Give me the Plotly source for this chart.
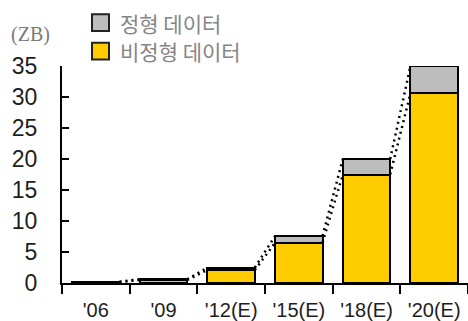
import plotly.graph_objects as go

# Data volume by year (ZB)
years = ["'06", "'09", "'12(E)", "'15(E)", "'18(E)", "'20(E)"]
unstructured = [0.15, 0.5, 2.1, 6.5, 17.5, 30.6]   # 비정형 데이터
structured = [0.05, 0.1, 0.4, 1.1, 2.5, 4.4]       # 정형 데이터

W, H = 468, 321
ML, MR, MT, MB = 62, 0, 66, 35
BAR_W = 0.7

xs = list(range(len(years)))
totals = [u + s for u, s in zip(unstructured, structured)]

fig = go.Figure()

# dotted connectors between neighbouring bars (totals and unstructured tops)
for series in (totals, unstructured):
    lx, ly = [], []
    for i in range(len(xs) - 1):
        lx += [xs[i] + BAR_W / 2, xs[i + 1] - BAR_W / 2, None]
        ly += [series[i], series[i + 1], None]
    fig.add_trace(go.Scatter(
        x=lx, y=ly, mode="lines", showlegend=False, hoverinfo="skip",
        line=dict(color="black", width=2.5, dash="2px,4px"),
    ))

fig.add_trace(go.Bar(
    x=xs, y=unstructured, name="비정형 데이터", width=BAR_W,
    marker=dict(color="#ffcc00", line=dict(color="black", width=2)),
    showlegend=False,
))
fig.add_trace(go.Bar(
    x=xs, y=structured, name="정형 데이터", width=BAR_W,
    marker=dict(color="#bdbdbd", line=dict(color="black", width=2)),
    showlegend=False,
))

PW = W - ML - MR
PH = H - MT - MB


def px_x(p):
    return (p - ML) / PW


def px_y(p):
    return (H - MB - p) / PH


# legend drawn by hand: square swatches with labels
legend_items = [("정형 데이터", "#bdbdbd", 22), ("비정형 데이터", "#ffcc00", 51)]
for label, color, cy in legend_items:
    fig.add_shape(
        type="rect", xref="paper", yref="paper",
        x0=px_x(92), x1=px_x(109), y0=px_y(cy - 8.5), y1=px_y(cy + 8.5),
        fillcolor=color, line=dict(color="#222", width=2),
    )
    fig.add_annotation(
        x=px_x(118), y=px_y(cy), xref="paper", yref="paper",
        text=label, showarrow=False, xanchor="left", yanchor="middle",
        font=dict(family="Noto Sans CJK KR", size=21, color="#858585"),
    )

fig.add_annotation(
    x=px_x(30), y=px_y(34), xref="paper", yref="paper",
    text="(ZB)", showarrow=False, xanchor="center", yanchor="middle",
    font=dict(family="Liberation Serif", size=20, color="#7a7a7a"),
)

fig.update_layout(
    width=W, height=H, barmode="stack",
    margin=dict(l=ML, r=MR, t=MT, b=MB),
    plot_bgcolor="white", paper_bgcolor="white",
    xaxis=dict(
        range=[-0.5, len(years) - 0.5], tickvals=xs, ticktext=years,
        ticks="", showline=True, linecolor="black", linewidth=2,
        showgrid=False, zeroline=False, ticklabelstandoff=8,
        tickfont=dict(family="Arial", size=20, color="#1e1e1e"),
        minor=dict(tick0=0.5, dtick=1, ticks="outside", ticklen=9,
                   tickwidth=2, tickcolor="black", showgrid=False),
    ),
    yaxis=dict(
        range=[0, 35], tickvals=[0, 5, 10, 15, 20, 25, 30, 35],
        ticks="inside", ticklen=7, tickwidth=2, tickcolor="black",
        showline=True, linecolor="black", linewidth=2,
        showgrid=False, zeroline=False, ticklabelstandoff=18,
        tickfont=dict(family="Arial", size=23, color="#1e1e1e"),
    ),
)

fig.write_html("out.html")
